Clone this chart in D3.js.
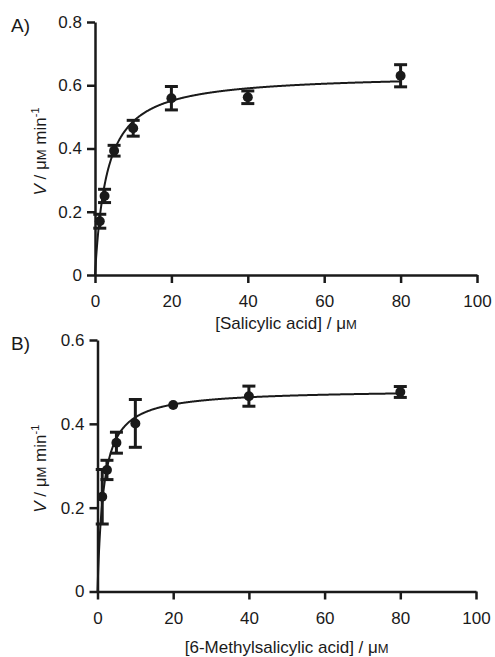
<!DOCTYPE html>
<html>
<head>
<meta charset="utf-8">
<script src="https://cdn.jsdelivr.net/npm/d3@7"></script>
<style>
  body { margin: 0; background: #fff; }
  svg { display: block; }
  text { font-family: "Liberation Sans", Arial, sans-serif; fill: #1a1a1a; }
</style>
</head>
<body>
<div id="graph"></div>
<script>
// data
var xTicks = [0, 20, 40, 60, 80, 100];
var yTicksA = [0, 0.2, 0.4, 0.6, 0.8];
var yTicksB = [0, 0.2, 0.4, 0.6];

var concA = [1.25, 2.5, 5, 10, 20, 40, 80];
var rateA = [0.17, 0.25, 0.393, 0.464, 0.559, 0.562, 0.63];
var errA = [0.022, 0.021, 0.017, 0.025, 0.037, 0.02, 0.035];
var vmaxA = 0.636, kmA = 3.1;   // Michaelis-Menten fit

var concB = [1.25, 2.5, 5, 10, 20, 40, 80];
var rateB = [0.226, 0.29, 0.355, 0.401, 0.445, 0.466, 0.476];
var errB = [0.065, 0.023, 0.025, 0.057, 0, 0.024, 0.013];
var vmaxB = 0.482, kmB = 1.6;

var w = 495, h = 657;

var svg = d3.select("#graph")
    .append("svg")
    .attr("width", w)
    .attr("height", h);

var fmt = function(d) { return d === 0 ? "0" : d3.format(".1f")(d); };

function drawPanel(p) {
    var x = d3.scaleLinear().domain([0, 100]).range([p.left, p.right]);
    var y = d3.scaleLinear().domain([0, p.ymax]).range([p.bottom, p.top]);
    var g = svg.append("g");

    // x axis
    var xa = g.append("g")
        .attr("transform", "translate(0," + p.bottom + ")")
        .call(d3.axisBottom(x).tickValues(xTicks).tickSize(8).tickSizeOuter(0).tickPadding(12));
    // y axis
    var ya = g.append("g")
        .attr("transform", "translate(" + p.left + ",0)")
        .call(d3.axisLeft(y).tickValues(p.yTicks).tickFormat(fmt).tickSize(8).tickSizeOuter(0).tickPadding(5));

    [xa, ya].forEach(function(a) {
        a.select(".domain").attr("stroke", "#1a1a1a").attr("stroke-width", 2.5);
        a.selectAll(".tick line").attr("stroke", "#1a1a1a").attr("stroke-width", 2.5);
        a.selectAll(".tick text")
            .attr("font-size", "17px")
            .attr("font-family", "Liberation Sans, Arial, sans-serif")
            .attr("fill", "#1a1a1a");
    });

    // fitted curve
    var pts = d3.range(0, 80.01, 0.1).map(function(s) {
        return [s, p.vmax * s / (p.km + s)];
    });
    g.append("path")
        .datum(pts)
        .attr("fill", "none")
        .attr("stroke", "#1a1a1a")
        .attr("stroke-width", 2)
        .attr("d", d3.line()
            .x(function(d) { return x(d[0]); })
            .y(function(d) { return y(d[1]); }));

    var data = p.conc.map(function(c, i) {
        return { c: c, v: p.rate[i], e: p.err[i] };
    });

    // error bars
    var eb = g.selectAll(".eb")
        .data(data.filter(function(d) { return d.e > 0; }))
        .enter().append("g")
        .attr("stroke", "#1a1a1a")
        .attr("stroke-width", 3);
    eb.append("line")
        .attr("x1", function(d) { return x(d.c); })
        .attr("x2", function(d) { return x(d.c); })
        .attr("y1", function(d) { return y(d.v - d.e); })
        .attr("y2", function(d) { return y(d.v + d.e); });
    [-1, 1].forEach(function(s) {
        eb.append("line")
            .attr("x1", function(d) { return x(d.c) - 6.5; })
            .attr("x2", function(d) { return x(d.c) + 6.5; })
            .attr("y1", function(d) { return y(d.v + s * d.e); })
            .attr("y2", function(d) { return y(d.v + s * d.e); });
    });

    // points
    g.selectAll(".pt")
        .data(data)
        .enter().append("circle")
        .attr("cx", function(d) { return x(d.c); })
        .attr("cy", function(d) { return y(d.v); })
        .attr("r", 5)
        .attr("fill", "#1a1a1a");

    // panel letter
    g.append("text")
        .attr("x", 11)
        .attr("y", p.top + 10)
        .attr("font-size", "19px")
        .text(p.letter);

    // x label
    var xl = g.append("text")
        .attr("x", (p.left + p.right) / 2)
        .attr("y", p.xlabelY)
        .attr("text-anchor", "middle")
        .attr("font-size", "17px");
    xl.append("tspan").text(p.xlabel + " / μ");
    xl.append("tspan").attr("font-size", "13px").text("M");

    // y label
    var yl = g.append("text")
        .attr("transform", "translate(46," + ((p.top + p.bottom) / 2 + 3) + ") rotate(-90)")
        .attr("text-anchor", "middle")
        .attr("font-size", "17px");
    yl.append("tspan").attr("font-style", "italic").text("V");
    yl.append("tspan").text(" / μ");
    yl.append("tspan").attr("font-size", "13px").text("M");
    yl.append("tspan").text(" min");
    yl.append("tspan").attr("font-size", "11px").attr("dy", -7).text("-1");
}

drawPanel({
    letter: "A)", left: 95, right: 477, top: 22, bottom: 275, ymax: 0.8,
    yTicks: yTicksA, conc: concA, rate: rateA, err: errA, vmax: vmaxA, km: kmA,
    xlabel: "[Salicylic acid]", xlabelY: 329
});

drawPanel({
    letter: "B)", left: 97.5, right: 476, top: 340, bottom: 591.5, ymax: 0.6,
    yTicks: yTicksB, conc: concB, rate: rateB, err: errB, vmax: vmaxB, km: kmB,
    xlabel: "[6-Methylsalicylic acid]", xlabelY: 653
});
</script>
</body>
</html>
